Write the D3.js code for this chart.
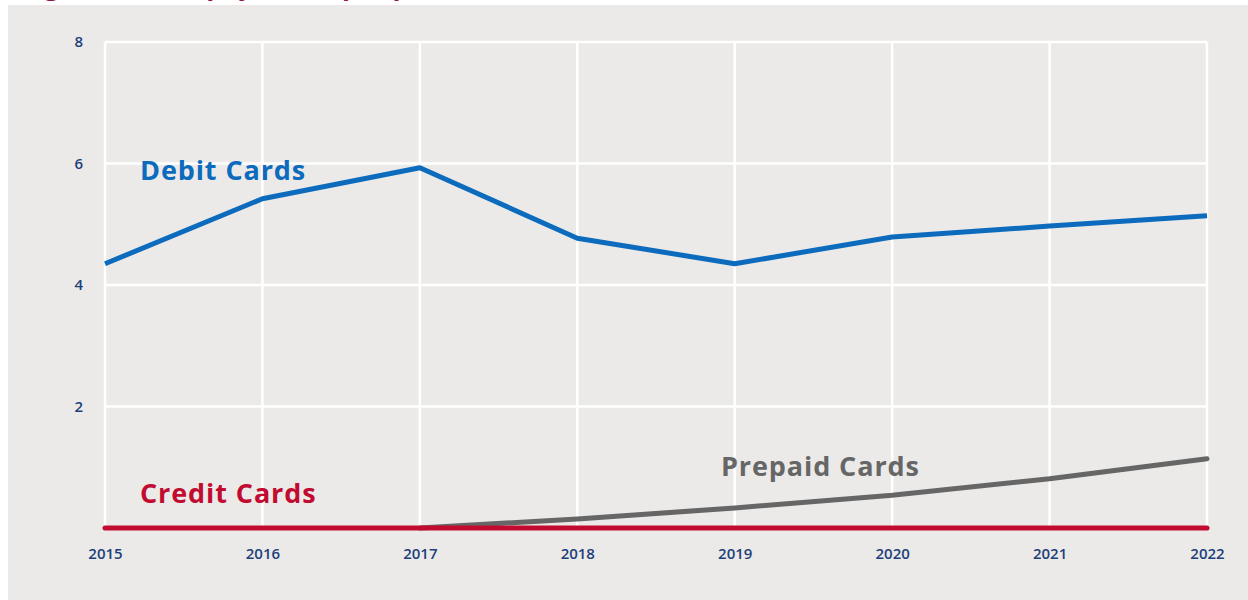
<!DOCTYPE html>
<html>
<head>
<meta charset="utf-8">
<script src="https://cdnjs.cloudflare.com/ajax/libs/d3/7.8.5/d3.min.js"></script>
<style>
  body { margin: 0; background: #fff; }
  svg { display: block; font-family: "Open Sans", Lato, sans-serif; }
</style>
</head>
<body>
<div id="chart"></div>
<script>
// data
var years = [2015, 2016, 2017, 2018, 2019, 2020, 2021, 2022];
var debit = [4.35, 5.42, 5.93, 4.77, 4.35, 4.79, 4.97, 5.14];
var prepaid = [null, null, 0, 0.15, 0.33, 0.54, 0.81, 1.14];
var credit = [0, 0, 0, 0, 0, 0, 0, 0];
var yTicks = [2, 4, 6, 8];

var W = 1248, H = 600;
var margin = {top: 42, right: 41, bottom: 72, left: 105},
    width = W - margin.left - margin.right,
    height = H - margin.top - margin.bottom;

var svg = d3.select("#chart").append("svg")
    .attr("width", W)
    .attr("height", H);

// grey panel
svg.append("rect")
    .attr("x", 8).attr("y", 5)
    .attr("width", W - 8).attr("height", H - 5)
    .attr("fill", "#ebeae8");

// title, cut off at the top like in the source
svg.append("text")
    .attr("x", 22).attr("y", -5)
    .attr("fill", "#8c1c3c")
    .style("font-size", "26px")
    .style("font-weight", "bold")
    .text("Figure 3: Card payments per person");

var g = svg.append("g")
    .attr("transform", "translate(" + margin.left + "," + margin.top + ")");

var x = d3.scaleLinear().domain([2015, 2022]).range([0, width]);
var y = d3.scaleLinear().domain([0, 8]).range([height, 0]);

// grid
g.selectAll(".vgrid")
    .data(years)
  .enter().append("line")
    .attr("x1", function(d) { return x(d); })
    .attr("x2", function(d) { return x(d); })
    .attr("y1", y(0))
    .attr("y2", y(8))
    .attr("stroke", "#fff")
    .attr("stroke-width", 2.5);

g.selectAll(".hgrid")
    .data(yTicks)
  .enter().append("line")
    .attr("x1", 0)
    .attr("x2", width)
    .attr("y1", function(d) { return y(d); })
    .attr("y2", function(d) { return y(d); })
    .attr("stroke", "#fff")
    .attr("stroke-width", 2.5);

// axes (labels only)
var xAxis = g.append("g")
    .attr("transform", "translate(0," + height + ")")
    .call(d3.axisBottom(x).tickValues(years).tickFormat(d3.format("d")).tickSize(0).tickPadding(20));

var yAxis = g.append("g")
    .call(d3.axisLeft(y).tickValues(yTicks).tickSize(0).tickPadding(22));

[xAxis, yAxis].forEach(function(a) {
  a.select(".domain").remove();
  a.selectAll("text")
    .attr("fill", "#1d3f7a")
    .style("font-size", "15px")
    .style("font-weight", "600")
    .style("font-family", "'Open Sans', sans-serif");
});

var line = d3.line()
    .defined(function(d) { return d[1] != null; })
    .x(function(d) { return x(d[0]); })
    .y(function(d) { return y(d[1]); });

function zip(vals) {
  return years.map(function(yr, i) { return [yr, vals[i]]; });
}

g.append("path")
    .datum(zip(prepaid))
    .attr("d", line)
    .attr("fill", "none")
    .attr("stroke", "#666666")
    .attr("stroke-width", 5)
    .attr("stroke-linecap", "round");

g.append("path")
    .datum(zip(debit))
    .attr("d", line)
    .attr("fill", "none")
    .attr("stroke", "#0c6bbd")
    .attr("stroke-width", 5)
    .attr("stroke-linejoin", "round");

g.append("path")
    .datum(zip(credit))
    .attr("d", line)
    .attr("fill", "none")
    .attr("stroke", "#c10b31")
    .attr("stroke-width", 5)
    .attr("stroke-linecap", "round");

// series labels
var labels = [
  {text: "Debit Cards", x: 35, y: 138, color: "#0c6bbd"},
  {text: "Credit Cards", x: 35, y: 461, color: "#c10b31"},
  {text: "Prepaid Cards", x: 616, y: 434, color: "#666666"}
];

g.selectAll(".lbl")
    .data(labels)
  .enter().append("text")
    .attr("x", function(d) { return d.x; })
    .attr("y", function(d) { return d.y; })
    .attr("fill", function(d) { return d.color; })
    .style("font-size", "27px")
    .style("font-weight", "bold")
    .style("letter-spacing", "0.9px")
    .text(function(d) { return d.text; });
</script>
</body>
</html>
